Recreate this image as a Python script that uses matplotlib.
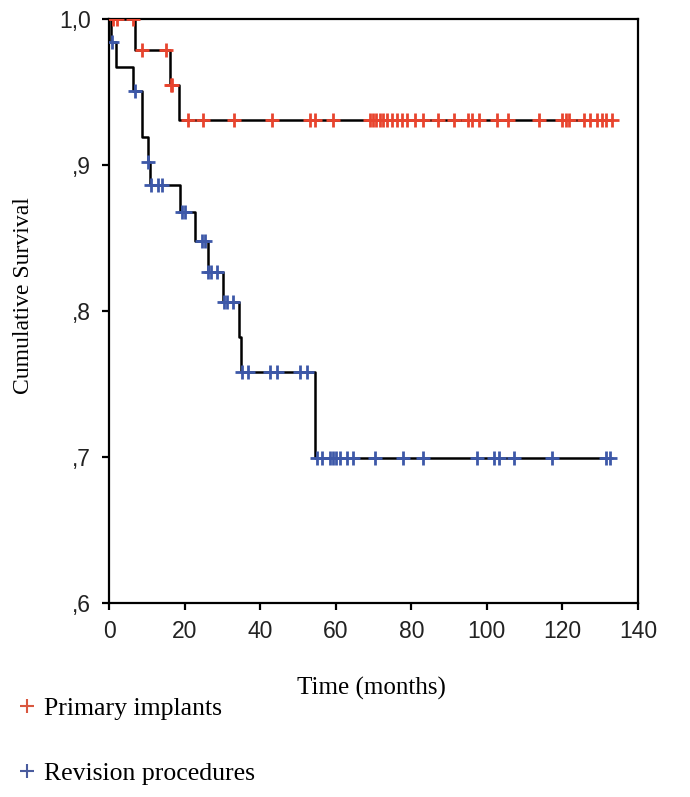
import numpy as np
import matplotlib
matplotlib.use('Agg')
import matplotlib.pyplot as plt
from matplotlib.lines import Line2D

# Kaplan-Meier steps: (time of drop in months, survival after drop)
primary_event_times = [6.8, 16.2, 18.4]
primary_event_surv = [0.979, 0.955, 0.931]
primary_censored = [1.0, 2.0, 6.3, 8.8, 15.1, 16.4, 16.8, 21.0, 24.8, 33.1, 43.1, 53.2, 54.6,
                    59.4, 69.1, 69.9, 70.7, 71.8, 72.6, 73.5, 74.9, 76.2, 77.5, 78.8, 81.0,
                    83.2, 87.2, 91.2, 95.1, 96.1, 97.8, 102.7, 105.7, 113.7, 120.0, 121.0,
                    121.8, 125.6, 127.4, 129.2, 130.4, 131.6, 133.2]

revision_event_times = [0.5, 1.9, 6.4, 8.7, 10.3, 10.8, 18.8, 22.8, 26.1, 30.3, 34.5, 35.0, 54.6]
revision_event_surv = [0.984, 0.967, 0.951, 0.919, 0.902, 0.886, 0.868, 0.848, 0.827, 0.806,
                       0.782, 0.758, 0.699]
revision_censored = [0.9, 6.8, 10.4, 11.0, 13.1, 14.0, 19.3, 20.1, 24.5, 25.4, 26.3, 26.9, 28.7,
                     30.5, 31.2, 32.9, 35.2, 36.9, 42.6, 44.4, 50.6, 52.4, 55.0, 56.3, 58.5,
                     59.3, 60.1, 61.2, 62.9, 64.7, 70.4, 77.9, 83.2, 97.4, 101.8, 103.1, 107.1,
                     117.2, 131.4, 132.7]

group_labels = ['Primary implants', 'Revision procedures']
group_colors = ['#e8442e', '#3d58a8']
legend_colors = ['#d9573f', '#4a5c9e']

y_ticks = [0.6, 0.7, 0.8, 0.9, 1.0]
y_tick_labels = [',6', ',7', ',8', ',9', '1,0']
x_ticks = [0, 20, 40, 60, 80, 100, 120, 140]

W, H = 690, 797
fig = plt.figure(figsize=(W / 100, H / 100), dpi=100)
ax = fig.add_axes([109 / W, 1 - 603 / H, (638 - 109) / W, (603 - 19) / H])


def km_step(ev_t, ev_s, cens):
    t = np.concatenate([[0.0], ev_t])
    s = np.concatenate([[1.0], ev_s])
    t_end = max(max(cens), t[-1])
    tt = np.append(t, t_end)
    ss = np.append(s, s[-1])
    idx = np.searchsorted(t, cens, side='right') - 1
    return tt, ss, np.asarray(cens), s[idx]


groups = [(primary_event_times, primary_event_surv, primary_censored),
          (revision_event_times, revision_event_surv, revision_censored)]

for (ev_t, ev_s, cens), col in zip(groups, group_colors):
    tt, ss, cx, cy = km_step(ev_t, ev_s, cens)
    ax.plot(tt, ss, drawstyle='steps-post', color='black', lw=1.8, zorder=2)
    ax.plot(cx, cy, ls='none', marker='+', ms=10.5, mew=2.0, color=col, zorder=3)

ax.set_xlim(0, 140)
ax.set_ylim(0.6, 1.0)
ax.set_xticks(x_ticks)
ax.set_yticks(y_ticks)
ax.set_yticklabels(y_tick_labels)
for sp in ax.spines.values():
    sp.set_linewidth(1.6)
ax.tick_params(direction='out', length=5, width=1.6, labelsize=16.5,
               labelcolor='#222222')
ax.tick_params(axis='x', pad=7)
ax.tick_params(axis='y', pad=8)
for lab in ax.get_xticklabels() + ax.get_yticklabels():
    lab.set_fontfamily('Liberation Sans')

ax.set_xlabel('Time (months)', family='Liberation Serif', fontsize=18, va='center')
ax.set_ylabel('Cumulative Survival', family='Liberation Serif', fontsize=17, va='center')
ax.xaxis.set_label_coords(0.497, -0.147)
ax.yaxis.set_label_coords(-0.162, 0.527)

handles = [Line2D([], [], ls='none', marker='+', ms=10, mew=1.5, color=c) for c in legend_colors]
fig.legend(handles, group_labels, loc='upper left', bbox_to_anchor=(14 / W, 1 - 697 / H),
           frameon=False, borderaxespad=0, borderpad=0, handlelength=1.0, handletextpad=0.15,
           labelspacing=1.62, prop={'family': 'Liberation Serif', 'size': 18.5})

fig.savefig('out.png', dpi=100)
